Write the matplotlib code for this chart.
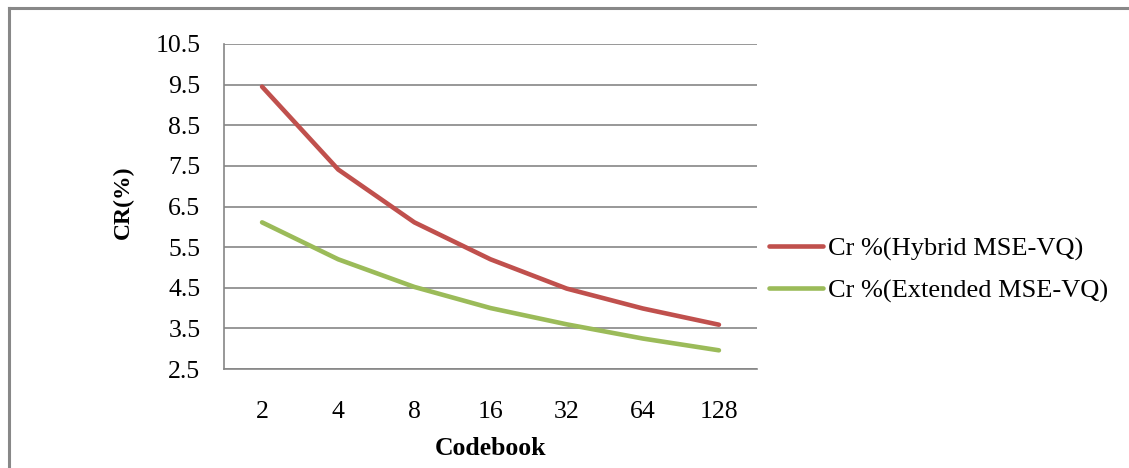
import matplotlib.pyplot as plt
from matplotlib.lines import Line2D

codebook = ['2', '4', '8', '16', '32', '64', '128']
cr_hybrid = [9.45, 7.41, 6.11, 5.20, 4.48, 3.99, 3.59]
cr_extended = [6.11, 5.20, 4.52, 4.00, 3.60, 3.25, 2.96]
yticks = [2.5, 3.5, 4.5, 5.5, 6.5, 7.5, 8.5, 9.5, 10.5]

plt.rcParams['font.family'] = ['Liberation Serif', 'DejaVu Serif']

W, H = 1129, 468
fig = plt.figure(figsize=[W/100, H/100], dpi=100)
# plot area in pixels: x 224..757, y 44..369
ax = fig.add_axes([224/W, 1 - 369/H, (757 - 224)/W, (369 - 44)/H])

x = range(len(codebook))
ax.plot(x, cr_hybrid, color='#C0504D', lw=3.3, solid_capstyle='round',
        label='Cr %(Hybrid MSE-VQ)')
ax.plot(x, cr_extended, color='#9BBB59', lw=3.3, solid_capstyle='round',
        label='Cr %(Extended MSE-VQ)')

ax.set_xlim(-0.5, len(codebook) - 0.5)
ax.set_ylim(2.5, 10.5)
ax.set_xticks(list(x))
ax.set_xticklabels(codebook)
ax.set_yticks(yticks)
ax.set_yticklabels([f'{v:.1f}' for v in yticks])
ax.tick_params(length=0, labelsize=18.5)
ax.tick_params(axis='y', pad=17)
ax.tick_params(axis='x', pad=23)
ax.yaxis.grid(True, color='#868686', lw=1.2)
ax.set_axisbelow(True)
for s in ['top', 'right']:
    ax.spines[s].set_visible(False)
for s in ['left', 'bottom']:
    ax.spines[s].set_color('#868686')
    ax.spines[s].set_linewidth(1.2)

ax.set_xlabel('Codebook', fontsize=18.5, fontweight='bold', labelpad=10)
ax.set_ylabel('CR(%)', fontsize=17, fontweight='bold')
ax.yaxis.set_label_coords(-0.169, 0.512)

ax.legend(loc='center left', bbox_to_anchor=(1 + 12/533, 0.305), frameon=False,
          fontsize=19, handlelength=2.05, handletextpad=0.19, labelspacing=0.69,
          borderaxespad=0, borderpad=0)

# chart frame
fig.add_artist(Line2D([8.5/W, 8.5/W], [0, 1 - 8/H], color='#888888', lw=2.2))
fig.add_artist(Line2D([8.5/W, 1], [1 - 8/H, 1 - 8/H], color='#888888', lw=2.2))

fig.savefig('out.png', dpi=100)
